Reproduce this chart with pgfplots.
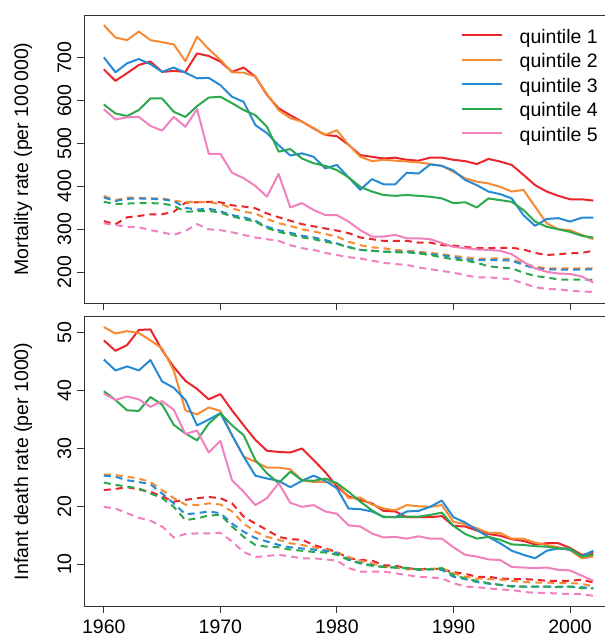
\documentclass[border=0pt]{standalone}
\usepackage{pgfplots}
\pgfplotsset{compat=1.18}
\usepackage{pgfplotstable}
\usepackage{graphicx}
\usepackage{fontspec}
\setmainfont{Liberation Sans}

\definecolor{q1}{RGB}{234,38,44}
\definecolor{q2}{RGB}{246,139,52}
\definecolor{q3}{RGB}{38,138,212}
\definecolor{q4}{RGB}{44,168,78}
\definecolor{q5}{RGB}{240,128,190}

\pgfplotstableread{
year s1 s2 s3 s4 s5 d1 d2 d3 d4 d5
1960 673 776 701 591 580 319 378 374 364 314
1961 646 747 666 570 556 312 368 366 359 310
1962 664 741 687 564 561 328 374 371 360 306
1963 683 761 697 578 562 331 373 372 361 305
1964 691 741 685 605 541 335 372 371 361 298
1965 667 736 667 605 530 335 372 370 360 293
1966 669 731 677 574 562 341 367 366 355 287
1967 667 692 665 562 539 362 363 350 341 296
1968 710 749 652 587 580 363 364 346 342 312
1969 704 720 653 607 476 364 363 348 343 300
1970 691 695 636 609 476 363 359 342 339 298
1971 667 666 609 594 432 356 349 333 330 293
1972 677 665 597 578 419 353 341 328 324 287
1973 656 656 543 566 401 349 337 320 318 281
1974 613 615 524 539 376 337 324 306 303 277
1975 582 578 496 481 429 328 314 298 294 273
1976 566 559 472 487 351 320 308 292 288 263
1977 551 551 477 465 361 312 300 285 281 256
1978 535 536 469 454 345 307 295 281 277 252
1979 520 520 442 448 333 302 289 275 271 245
1980 517 531 450 438 333 297 283 267 266 240
1981 497 497 421 421 318 291 271 259 258 235
1982 473 469 392 399 298 281 263 252 252 232
1983 469 459 417 388 283 277 258 250 250 227
1984 465 462 405 380 283 273 256 248 248 222
1985 467 460 405 378 287 273 252 248 246 219
1986 462 458 432 380 279 273 250 248 246 217
1987 460 456 430 378 279 269 248 245 244 211
1988 467 452 451 376 277 269 245 242 240 207
1989 467 448 448 372 268 263 242 240 235 203
1990 462 434 437 361 259 262 238 235 230 199
1991 459 419 415 363 256 259 235 230 227 193
1992 452 411 403 351 253 256 231 228 222 188
1993 464 407 388 372 252 256 232 228 214 188
1994 458 399 382 368 250 257 232 228 211 186
1995 450 388 372 364 242 257 230 227 209 183
1996 427 392 333 345 224 253 221 217 199 174
1997 403 353 308 318 209 245 213 209 191 165
1998 388 314 324 306 201 240 209 207 188 161
1999 378 300 326 300 197 242 209 206 183 160
2000 370 298 318 294 196 244 209 206 183 157
2001 370 287 327 285 190 245 209 206 183 155
2002 367 277 327 281 176 250 209 207 182 154
}\mort

\pgfplotstableread{
year s1 s2 s3 s4 s5 d1 d2 d3 d4 d5
1960 48.7 51.0 45.4 39.9 39.5 22.8 25.5 25.3 24.1 19.9
1961 46.9 49.9 43.5 38.4 38.4 23.0 25.4 25.1 23.7 19.6
1962 47.9 50.3 44.2 36.6 39.0 23.3 25.1 24.5 23.4 18.8
1963 50.5 50.0 43.5 36.5 38.5 22.9 24.8 24.2 23.1 18.0
1964 50.6 48.7 45.3 38.9 37.2 22.5 24.2 23.8 22.2 17.5
1965 47.0 47.3 41.6 37.6 38.2 21.7 22.8 22.2 21.4 16.5
1966 44.1 43.5 40.5 34.1 36.7 20.8 21.4 20.5 19.9 14.6
1967 41.7 36.6 38.4 32.6 32.5 21.1 20.3 18.6 17.6 15.2
1968 40.3 35.9 34.0 31.4 33.1 21.4 20.2 18.8 17.9 15.3
1969 38.5 37.1 35.0 34.3 29.3 21.6 20.5 19.1 18.4 15.3
1970 39.4 36.5 36.1 36.1 31.3 21.4 20.3 18.8 18.5 15.4
1971 36.6 32.3 32.3 34.0 24.5 20.5 19.1 17.0 16.5 13.9
1972 34.0 28.6 28.6 32.3 22.5 18.2 17.0 15.6 14.7 12.1
1973 31.5 27.7 25.3 28.0 20.2 17.0 15.6 14.5 13.3 11.2
1974 29.6 26.7 24.8 25.7 21.4 15.9 14.7 13.9 13.0 11.4
1975 29.4 26.7 24.4 24.0 24.0 14.7 14.2 13.3 12.9 11.6
1976 29.3 26.4 23.3 26.0 20.6 14.3 13.6 12.9 12.5 11.3
1977 30.0 24.5 24.4 24.5 19.9 14.2 13.3 12.7 12.3 11.0
1978 28.0 24.2 25.3 24.4 20.2 13.3 12.9 12.5 12.1 11.0
1979 25.9 24.2 24.4 24.8 19.1 12.7 12.5 12.3 12.0 10.8
1980 23.4 24.0 23.1 24.0 18.7 12.1 12.0 11.9 11.6 10.6
1981 21.7 21.4 19.6 22.5 16.7 11.0 11.2 10.8 10.7 9.3
1982 21.1 21.5 19.5 20.8 16.5 10.7 10.6 10.2 10.1 8.7
1983 20.5 20.3 19.1 19.3 15.3 10.6 10.1 9.8 9.7 8.7
1984 19.2 19.6 18.2 18.1 14.6 9.8 9.5 9.5 9.5 8.7
1985 19.1 19.3 18.1 18.1 14.7 9.7 9.4 9.4 9.4 8.4
1986 18.1 20.2 19.1 18.2 14.4 9.3 9.1 9.3 9.3 8.1
1987 18.1 20.0 19.2 18.2 14.8 9.1 9.0 9.0 9.1 7.8
1988 18.1 19.9 19.9 18.5 14.4 9.2 9.1 9.1 9.1 7.7
1989 18.3 20.2 21.0 18.9 14.4 9.1 9.3 9.0 9.3 7.5
1990 16.6 17.3 18.1 16.6 12.9 8.6 8.4 7.8 8.1 6.7
1991 16.5 16.9 17.2 15.2 11.6 8.3 7.8 7.4 7.5 6.1
1992 15.8 16.2 15.9 14.4 11.3 7.8 7.5 6.9 7.1 6.0
1993 15.2 15.4 14.7 14.7 10.8 7.8 7.4 6.6 6.7 5.8
1994 14.9 15.4 13.6 14.2 10.7 7.5 7.3 6.4 6.4 5.6
1995 14.3 14.4 12.3 13.4 9.5 7.4 7.1 6.2 6.1 5.5
1996 14.0 14.4 11.6 13.3 9.4 7.4 6.9 6.1 6.1 5.2
1997 13.4 13.7 11.0 13.1 9.3 7.3 6.8 6.1 6.1 5.0
1998 13.6 13.3 12.3 13.0 9.4 7.1 6.8 6.1 6.1 5.0
1999 13.6 12.9 12.7 12.7 9.0 7.1 6.7 6.1 6.0 4.9
2000 12.8 12.4 12.5 12.7 8.9 7.1 6.7 6.1 6.1 4.8
2001 11.6 11.0 11.4 11.3 8.0 7.3 6.6 6.0 5.8 4.8
2002 11.9 11.3 12.3 11.6 7.1 6.8 6.1 5.8 5.8 4.5
}\infant

\pgfplotsset{
  rstyle/.style={
    scale only axis, width=521pt,
    xmin=1958.3, xmax=2003.0,
    axis x line*=box, axis y line*=left,
    axis line style={black!80, line width=0.9pt},
    tick style={black!80, line width=0.9pt},
    tick align=outside, major tick length=7pt,
    xtick pos=bottom, ytick pos=left,
    xtick={1960,1970,1980,1990,2000},
    /pgf/number format/1000 sep={},
    /pgf/number format/assume math mode=true,
    tick label style={font=\fontsize{19.5}{23}\selectfont},
    xticklabel style={anchor=north, inner sep=0pt},
    xticklabel shift=6.5pt,
    yticklabel={\rotatebox{90}{\pgfmathprintnumber{\tick}}},
    yticklabel style={anchor=east, inner sep=0pt},
    yticklabel shift=5.5pt,
    every axis y label/.style={at={(axis description cs:-0.1171,0.5)}, rotate=90, anchor=center, font=\fontsize{19.5}{23}\selectfont},
    clip=false,
  },
  sol/.style={line width=2pt, line join=round},
  das/.style={line width=2pt, dash pattern=on 7pt off 5pt, forget plot},
}

\begin{document}
\begin{tikzpicture}
\path[use as bounding box] (0pt,0pt) rectangle (605pt,-638pt);

\begin{axis}[rstyle,
  at={(84pt,-15pt)}, anchor=north west,
  height=288pt,
  ymin=128.2, ymax=799.5,
  ytick={200,300,400,500,600,700},
  xticklabels={},
  ylabel={Mortality rate (per 100\,000)},
  legend style={draw=none, fill=none, inner sep=0pt, outer sep=0pt,
    row sep=6.5pt, column sep=16.7pt,
    nodes={inner sep=0pt, text height=14pt, text depth=4pt, font=\fontsize{19.5}{23}\selectfont},
    cells={anchor=base west},
    at={(0.7236,0.9503)}, anchor=north west},
  legend image code/.code={\draw[#1] (0pt,8pt) -- (40pt,8pt);},
]
\addplot[das, q1] table[x=year, y=d1] {\mort};
\addplot[das, q2] table[x=year, y=d2] {\mort};
\addplot[das, q3] table[x=year, y=d3] {\mort};
\addplot[das, q4] table[x=year, y=d4] {\mort};
\addplot[das, q5] table[x=year, y=d5] {\mort};
\addplot[sol, q1] table[x=year, y=s1] {\mort};
\addplot[sol, q2] table[x=year, y=s2] {\mort};
\addplot[sol, q3] table[x=year, y=s3] {\mort};
\addplot[sol, q4] table[x=year, y=s4] {\mort};
\addplot[sol, q5] table[x=year, y=s5] {\mort};
\legend{quintile 1, quintile 2, quintile 3, quintile 4, quintile 5}
\end{axis}

\begin{axis}[rstyle,
  at={(84pt,-316.7pt)}, anchor=north west,
  height=289.3pt,
  ymin=2.74, ymax=52.8,
  ytick={10,20,30,40,50},
  ylabel={Infant death rate (per 1000)},
]
\addplot[das, q1] table[x=year, y=d1] {\infant};
\addplot[das, q2] table[x=year, y=d2] {\infant};
\addplot[das, q3] table[x=year, y=d3] {\infant};
\addplot[das, q4] table[x=year, y=d4] {\infant};
\addplot[das, q5] table[x=year, y=d5] {\infant};
\addplot[sol, q1] table[x=year, y=s1] {\infant};
\addplot[sol, q2] table[x=year, y=s2] {\infant};
\addplot[sol, q3] table[x=year, y=s3] {\infant};
\addplot[sol, q4] table[x=year, y=s4] {\infant};
\addplot[sol, q5] table[x=year, y=s5] {\infant};
\end{axis}
\end{tikzpicture}
\end{document}
